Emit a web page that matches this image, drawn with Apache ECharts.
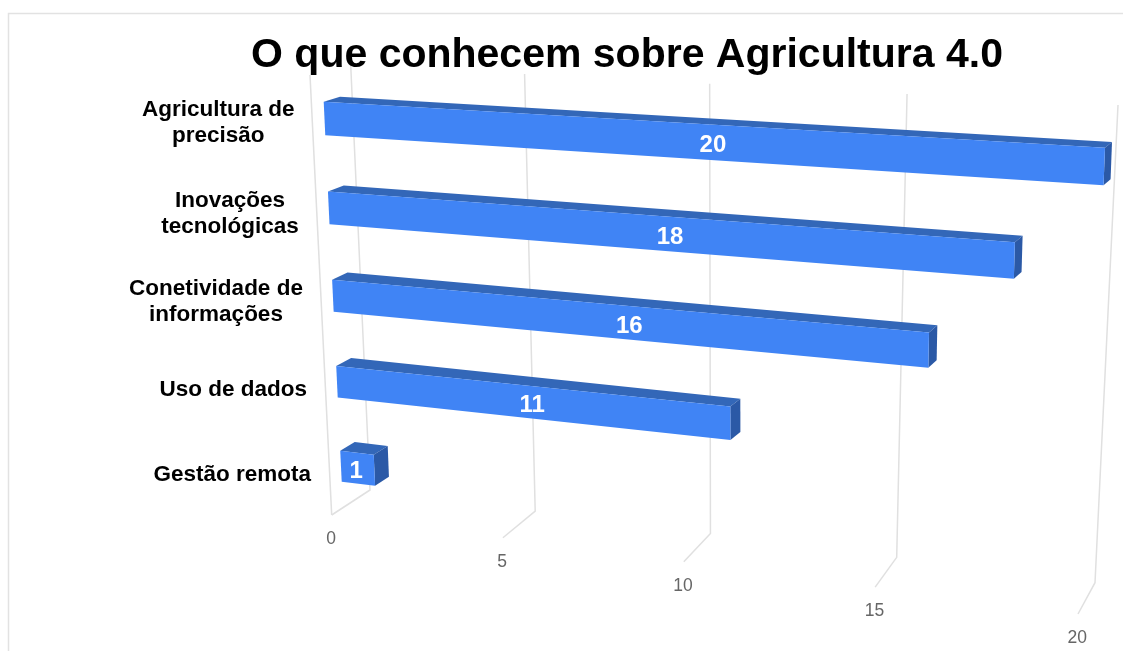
<!DOCTYPE html>
<html lang="pt">
<head>
<meta charset="utf-8">
<title>O que conhecem sobre Agricultura 4.0</title>
<style>
  html, body { margin: 0; padding: 0; background: #fff; }
  #chart { width: 1123px; height: 651px; }
</style>
<script src="https://cdn.jsdelivr.net/npm/echarts@6/dist/echarts.min.js"></script>
</head>
<body>
<div id="chart"></div>
<script>
// Chart data
const chartTitle = 'O que conhecem sobre Agricultura 4.0';
const categories = ['Agricultura de\nprecisão', 'Inovações\ntecnológicas', 'Conetividade de\ninformações', 'Uso de dados', 'Gestão remota'];
const values = [20, 18, 16, 11, 1];
const ticks = [0, 5, 10, 15, 20];

// Palette
const FRONT = '#4084f5';
const TOP = '#3367b8';
const SIDE = '#2b59a6';
const GRID = '#e0e0e0';
const TICK_TEXT = '#666666';
const FONT = '"Liberation Sans", Arial, sans-serif';

// The 2D plot plane (hidden axes) is carried onto each face of the tilted box by a
// projective transform; each plane is given by its four projected corners.
const PLOT = { left: 100, top: 100, width: 800, height: 400 };
const BAR_DEPTH = 0.37;               // bar thickness as a fraction of a row
const ROW_SPAN = categories.length - 1 + BAR_DEPTH;

function planeFrom(q) {
  const [[x0, y0], [x1, y1], [x2, y2], [x3, y3]] = q;
  const dx1 = x1 - x2, dx2 = x3 - x2, sx = x0 - x1 + x2 - x3;
  const dy1 = y1 - y2, dy2 = y3 - y2, sy = y0 - y1 + y2 - y3;
  const det = dx1 * dy2 - dx2 * dy1;
  const g = (sx * dy2 - dx2 * sy) / det;
  const h = (dx1 * sy - sx * dy1) / det;
  const a = x1 - x0 + g * x1, b = x3 - x0 + h * x3;
  const d = y1 - y0 + g * y1, e = y3 - y0 + h * y3;
  return (s, n) => {
    const w = g * s + h * n + 1;
    return [(a * s + b * n + x0) / w, (d * s + e * n + y0) / w];
  };
}

const frontPlane = planeFrom([[323.7, 101.7], [1105, 147.7], [1088.7, 573], [341.7, 481.7]]);
const backPlane = planeFrom([[340, 96.7], [1112, 142], [1096, 565], [356, 472.7]]);
const wallPlane = planeFrom([[350.7, 65], [1118, 105], [1095, 582.7], [370, 490]]);
const floorPlane = planeFrom([[370, 490], [1095, 582.7], [1078, 614], [331.7, 515]]);

// Axis pixel -> normalised position along the value axis
const valueToS = (api, v) => (api.coord([v, 0])[0] - PLOT.left) / PLOT.width;
// Category index -> row number taken from the category scale
const indexToRow = (api, i) => (api.coord([0, i])[1] - PLOT.top) / PLOT.height * categories.length - 0.5;
const rowEdge = (row, offset) => (row + offset) / ROW_SPAN;

function poly(points, fill) {
  return { type: 'polygon', shape: { points }, style: { fill, stroke: null } };
}

function renderBar(params, api) {
  const i = api.value(1);
  const s = valueToS(api, api.value(0));
  const row = indexToRow(api, i);
  const n0 = rowEdge(row, 0), n1 = rowEdge(row, BAR_DEPTH);
  const fTL = frontPlane(0, n0), fBL = frontPlane(0, n1);
  const fTR = frontPlane(s, n0), fBR = frontPlane(s, n1);
  const bTL = backPlane(0, n0), bTR = backPlane(s, n0), bBR = backPlane(s, n1);
  return {
    type: 'group',
    children: [
      poly([fTL, fTR, bTR, bTL], TOP),
      poly([fTR, bTR, bBR, fBR], SIDE),
      poly([fTL, fTR, fBR, fBL], FRONT),
      {
        type: 'text',
        style: {
          text: String(api.value(0)),
          x: (fTL[0] + fBL[0] + fTR[0] + fBR[0]) / 4 - 1.5,
          y: (fTL[1] + fBL[1] + fTR[1] + fBR[1]) / 4 + 3,
          align: 'center', verticalAlign: 'middle',
          font: 'bold 24px ' + FONT, fill: '#ffffff'
        }
      }
    ]
  };
}

function renderGridLine(params, api) {
  const s = valueToS(api, api.value(0));
  const lineStyle = { stroke: GRID, lineWidth: 1.5, fill: null };
  const foot = floorPlane(s, 1);
  return {
    type: 'group',
    children: [
      { type: 'polyline', shape: { points: [wallPlane(s, 0), wallPlane(s, 1), foot] }, style: lineStyle },
      {
        type: 'text',
        style: {
          text: String(api.value(0)), x: foot[0] - 0.7, y: foot[1] + 24.5,
          align: 'center', verticalAlign: 'middle',
          font: '17.5px ' + FONT, fill: TICK_TEXT
        }
      }
    ]
  };
}

// Front vertical edge of the side wall, at value 0
function renderSideEdge(params, api) {
  const s = valueToS(api, 0);
  return {
    type: 'line',
    shape: { x1: 310, y1: 75, x2: floorPlane(s, 1)[0], y2: floorPlane(s, 1)[1] },
    style: { stroke: GRID, lineWidth: 1.5 }
  };
}

// Category names: the block sits right-aligned to the wall, its lines centred within it
const measure = document.createElement('canvas').getContext('2d');
const LABEL_FONT = 'bold 22.5px ' + FONT;
function renderCategory(params, api) {
  const i = api.value(1);
  const row = indexToRow(api, i);
  const anchor = frontPlane(0, rowEdge(row, BAR_DEPTH / 2));
  const name = categories[i];
  measure.font = LABEL_FONT;
  const blockWidth = Math.max(...name.split('\n').map(t => measure.measureText(t).width));
  return {
    type: 'text',
    style: {
      text: name,
      x: anchor[0] - 30 - blockWidth / 2, y: anchor[1] + 4.5 + row,
      align: 'center', verticalAlign: 'middle',
      font: LABEL_FONT, lineHeight: 26, fill: '#000000'
    }
  };
}

const barData = values.map((v, i) => [v, i]);
const tickData = ticks.map(t => [t, 0]);

const chart = echarts.init(document.getElementById('chart'), null, { renderer: 'canvas' });
chart.setOption({
  animation: false,
  backgroundColor: '#ffffff',
  title: {
    text: chartTitle,
    left: 622, top: 51, textAlign: 'center', textVerticalAlign: 'middle',
    textStyle: { fontFamily: FONT, fontWeight: 'bold', fontSize: 41, color: '#000000' }
  },
  graphic: [{
    type: 'polyline', silent: true,
    shape: { points: [[8.5, 651], [8.5, 13.5], [1123, 13.5]] },
    style: { stroke: '#e2e2e2', lineWidth: 1.5, fill: null }
  }],
  grid: PLOT,
  xAxis: { type: 'value', min: 0, max: 20, interval: 5, show: false },
  yAxis: { type: 'category', data: categories, inverse: true, show: false },
  series: [
    { type: 'custom', name: 'side edge', data: [[0, 0]], renderItem: renderSideEdge, encode: { x: 0, y: 1 }, silent: true, z: 1 },
    { type: 'custom', name: 'grid', data: tickData, renderItem: renderGridLine, encode: { x: 0, y: 1 }, silent: true, z: 1 },
    { type: 'custom', name: 'categories', data: barData, renderItem: renderCategory, encode: { x: 0, y: 1 }, silent: true, z: 2 },
    { type: 'custom', name: 'Agricultura 4.0', data: barData, renderItem: renderBar, encode: { x: 0, y: 1 }, z: 3 }
  ]
});
</script>
</body>
</html>
